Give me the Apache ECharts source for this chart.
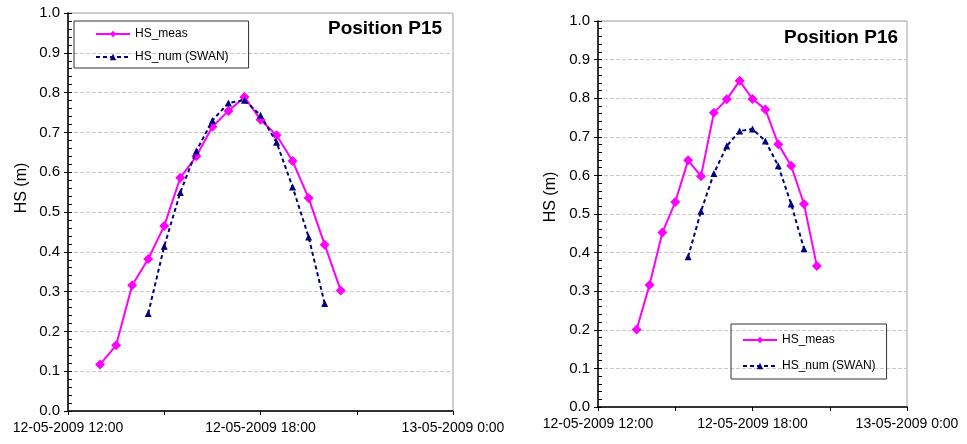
<!DOCTYPE html>
<html>
<head>
<meta charset="utf-8">
<script src="https://cdn.jsdelivr.net/npm/echarts@6/dist/echarts.min.js"></script>
<style>
  html, body { margin: 0; padding: 0; background: #fff; }
  #main { width: 967px; height: 444px; }
</style>
</head>
<body>
<div id="main"></div>
<script>
// time in hours of 12-05-2009
var timeMeasP15 = [13, 13.5, 14, 14.5, 15, 15.5, 16, 16.5, 17, 17.5, 18, 18.5, 19, 19.5, 20, 20.5];
var measP15 = [0.117, 0.165, 0.316, 0.382, 0.465, 0.586, 0.640, 0.714, 0.754, 0.789, 0.732, 0.693, 0.628, 0.535, 0.418, 0.303];
var timeNumP15 = [14.5, 15, 15.5, 16, 16.5, 17, 17.5, 18, 18.5, 19, 19.5, 20];
var numP15 = [0.245, 0.414, 0.549, 0.653, 0.730, 0.774, 0.781, 0.743, 0.675, 0.563, 0.437, 0.270];

var timeMeasP16 = [13.5, 14, 14.5, 15, 15.5, 16, 16.5, 17, 17.5, 18, 18.5, 19, 19.5, 20, 20.5];
var measP16 = [0.201, 0.316, 0.452, 0.531, 0.639, 0.598, 0.762, 0.797, 0.845, 0.798, 0.771, 0.681, 0.625, 0.526, 0.365];
var timeNumP16 = [15.5, 16, 16.5, 17, 17.5, 18, 18.5, 19, 19.5, 20];
var numP16 = [0.389, 0.507, 0.605, 0.676, 0.715, 0.720, 0.689, 0.625, 0.526, 0.410];

var xTickValues = [12, 18, 24];
var xTickLabels = ['12-05-2009 12:00', '12-05-2009 18:00', '13-05-2009 0:00'];

var FONT = 'Liberation Sans, Arial, sans-serif';

function pairs(t, v) {
  var out = [];
  for (var i = 0; i < t.length; i++) out.push([t[i], v[i]]);
  return out;
}

function xAxisFor(gi) {
  return {
    type: 'value', gridIndex: gi, min: 12, max: 24, interval: 3,
    axisLine: { show: true, lineStyle: { color: '#000', width: 1.5 } },
    axisTick: { show: true, length: 4, lineStyle: { color: '#000' } },
    splitLine: { show: false },
    axisLabel: {
      color: '#000', fontFamily: FONT, fontSize: 14, margin: 10,
      formatter: function (v) {
        var k = xTickValues.indexOf(v);
        return k >= 0 ? xTickLabels[k] : '';
      }
    }
  };
}

function yAxisFor(gi) {
  return {
    type: 'value', gridIndex: gi, min: 0, max: 1, interval: 0.1,
    axisLine: { show: true, lineStyle: { color: '#000', width: 1.5 } },
    axisTick: { show: true, length: 4, lineStyle: { color: '#000' } },
    splitLine: { show: true, lineStyle: { color: '#c8c8c8', type: 'dashed', width: 1 } },
    axisLabel: {
      color: '#000', fontFamily: FONT, fontSize: 15, margin: 8,
      formatter: function (v) { return v.toFixed(1); }
    }
  };
}

// minor ticks: a right-side axis pulled back onto the left edge, ticks pointing into the plot
function minorYAxisFor(gi, w) {
  return {
    type: 'value', gridIndex: gi, min: 0, max: 1, interval: 0.02,
    position: 'right', offset: -w,
    axisLine: { show: false },
    axisTick: { show: true, inside: false, length: 4, lineStyle: { color: '#000' } },
    axisLabel: { show: false },
    splitLine: { show: false }
  };
}

function measSeries(gi, data) {
  return {
    name: 'HS_meas', type: 'line', xAxisIndex: gi, yAxisIndex: gi * 2, data: data,
    symbol: 'diamond', symbolSize: 10,
    itemStyle: { color: '#ff00ff' },
    lineStyle: { color: '#ff00ff', width: 2 },
    z: 3
  };
}

function numSeries(gi, data) {
  return {
    name: 'HS_num (SWAN)', type: 'line', xAxisIndex: gi, yAxisIndex: gi * 2, data: data,
    symbol: 'triangle', symbolSize: 7,
    itemStyle: { color: '#000080' },
    lineStyle: { color: '#000080', width: 2, type: [4, 3] },
    z: 4
  };
}

var chart = echarts.init(document.getElementById('main'));

var legendBase = {
  orient: 'vertical',
  itemWidth: 34, itemHeight: 8,
  borderColor: '#333', borderWidth: 1,
  textStyle: { color: '#000', fontFamily: FONT, fontSize: 12, lineHeight: 12 },
  data: ['HS_meas', 'HS_num (SWAN)']
};

var option = {
  backgroundColor: '#fff',
  animation: false,
  title: [
    { text: 'Position P15', left: 328, top: 19, padding: 0,
      textStyle: { fontFamily: FONT, fontSize: 19, fontWeight: 'bold', color: '#000' } },
    { text: 'Position P16', left: 784, top: 28, padding: 0,
      textStyle: { fontFamily: FONT, fontSize: 19, fontWeight: 'bold', color: '#000' } }
  ],
  legend: [
    Object.assign({}, legendBase, { left: 74, top: 21, padding: [7, 20, 5, 21], itemGap: 11 }),
    Object.assign({}, legendBase, { left: 731, top: 324, padding: [10, 11, 7, 11], itemGap: 14 })
  ],
  grid: [
    { left: 68, top: 13, width: 385, height: 398, show: true, borderColor: '#a0a0a0', borderWidth: 1 },
    { left: 598, top: 21, width: 309, height: 386, show: true, borderColor: '#a0a0a0', borderWidth: 1 }
  ],
  xAxis: [xAxisFor(0), xAxisFor(1)],
  yAxis: [yAxisFor(0), minorYAxisFor(0, 385), yAxisFor(1), minorYAxisFor(1, 309)],
  graphic: [
    { type: 'text', x: 22, y: 188, rotation: Math.PI / 2,
      style: { text: 'HS (m)', fill: '#000', font: '16px ' + FONT, textAlign: 'center', textVerticalAlign: 'middle' } },
    { type: 'text', x: 551, y: 197, rotation: Math.PI / 2,
      style: { text: 'HS (m)', fill: '#000', font: '16px ' + FONT, textAlign: 'center', textVerticalAlign: 'middle' } }
  ],
  series: [
    measSeries(0, pairs(timeMeasP15, measP15)),
    numSeries(0, pairs(timeNumP15, numP15)),
    measSeries(1, pairs(timeMeasP16, measP16)),
    numSeries(1, pairs(timeNumP16, numP16))
  ]
};

chart.setOption(option);
</script>
</body>
</html>
